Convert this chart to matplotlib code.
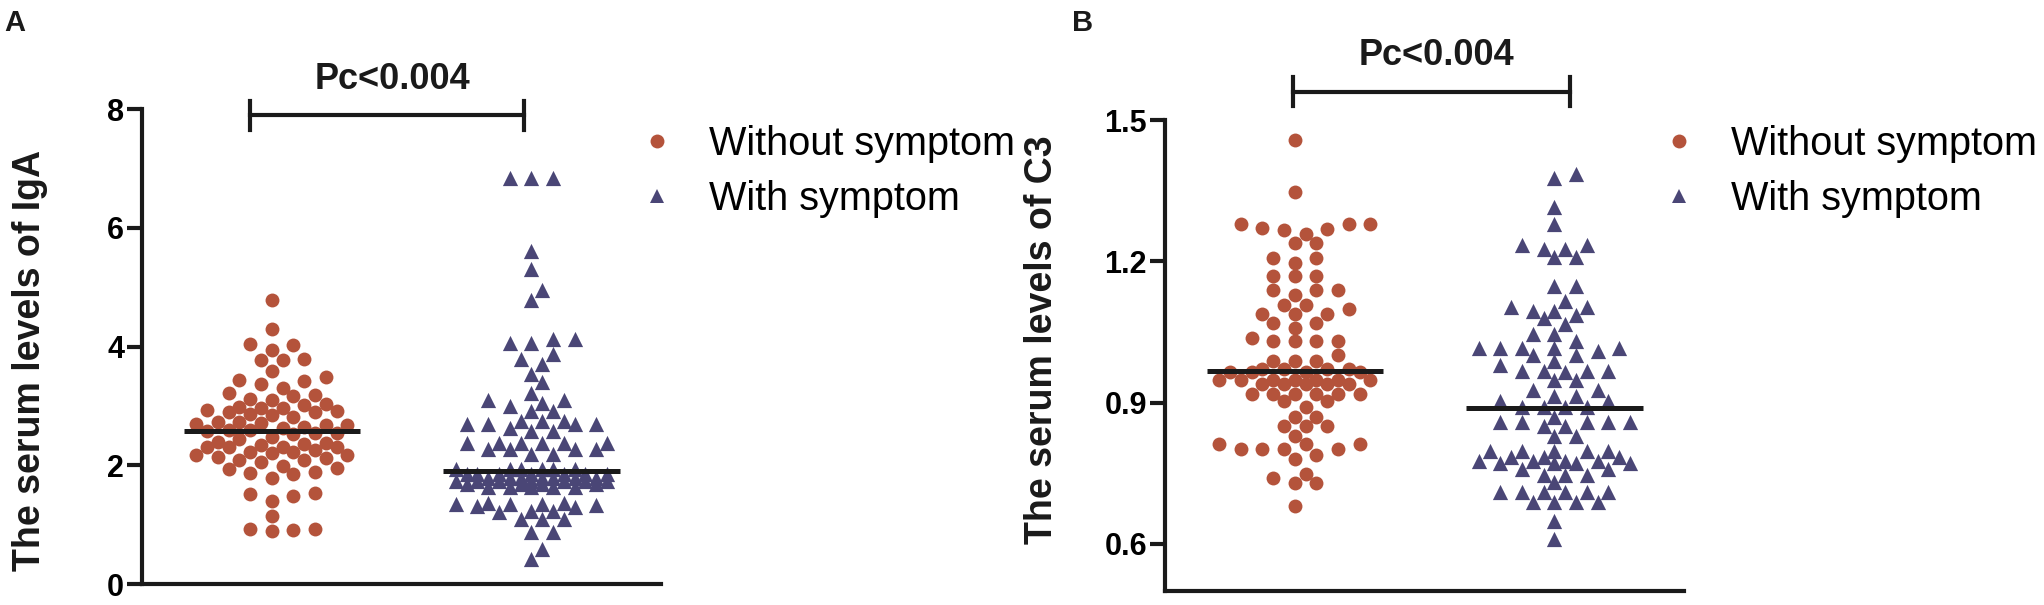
import numpy as np
import matplotlib
matplotlib.use('Agg')
import matplotlib.pyplot as plt
from matplotlib.lines import Line2D
from matplotlib.ticker import FormatStrFormatter

plt.rcParams['font.family'] = ['Liberation Sans', 'DejaVu Sans']

# ---- data ----
groups = ['Without symptom', 'With symptom']

iga_without = [4.78, 4.29, 4.04, 4.03, 3.95, 3.79, 3.78, 3.77, 3.58, 3.49,
               3.44, 3.42, 3.37, 3.30, 3.21, 3.19, 3.16, 3.12, 3.10, 3.04,
               2.97, 2.72, 2.52, 2.36, 2.22, 2.05,
               2.92, 2.65, 2.48, 2.31, 2.17,
               2.96, 2.85, 2.73, 2.59, 2.31, 2.17,
               3.01, 2.87, 2.70, 2.57, 2.40, 2.26, 2.14,
               2.98, 2.82, 2.68, 2.54, 2.31, 2.09,
               2.93, 2.73, 2.62, 2.45, 2.31, 2.09,
               2.90, 2.59, 2.37, 2.20,
               2.90, 2.68, 2.55, 2.34, 2.23, 2.12,
               1.99, 1.95, 1.94, 1.88, 1.87, 1.85, 1.79, 1.53, 1.52, 1.48,
               1.40, 1.14, 0.92, 0.91, 0.92, 0.90]

iga_with = [6.84, 6.84, 6.84, 5.61, 5.30, 4.95, 4.79, 4.13, 4.13, 4.06,
            4.06, 3.87, 3.79, 3.70, 3.53, 3.40, 3.21, 3.10, 3.10, 3.05,
            3.00, 2.91, 2.91, 2.75, 2.75, 2.75, 2.69, 2.69, 2.69, 2.69,
            2.63, 2.58, 2.58, 2.38, 2.38, 2.38, 2.38, 2.38, 2.38, 2.27,
            2.27, 2.27, 2.27, 2.19, 2.19,
            1.93, 1.93, 1.93, 1.93, 1.93, 1.93,
            1.86, 1.86, 1.86, 1.86, 1.86, 1.86, 1.86,
            1.78, 1.78, 1.78, 1.78, 1.78, 1.78, 1.78,
            1.74, 1.74, 1.74, 1.74, 1.74, 1.74, 1.74,
            1.69, 1.69, 1.69, 1.69,
            1.63, 1.63, 1.63, 1.63, 1.63,
            1.37, 1.36, 1.35, 1.35, 1.34, 1.33, 1.32, 1.30,
            1.23, 1.23, 1.22, 1.10, 1.10, 1.09, 0.88, 0.88, 0.59, 0.42]

c3_without = [1.457, 1.347, 1.279, 1.271, 1.267, 1.259, 1.268, 1.279, 1.279,
              1.238, 1.238, 1.207, 1.207, 1.197, 1.169, 1.169, 1.169,
              1.140, 1.140, 1.140, 1.128, 1.107, 1.107, 1.099,
              1.089, 1.089, 1.089, 1.070, 1.070, 1.058, 1.038,
              1.030, 1.030, 1.030, 1.030, 1.001, 0.989, 0.989, 0.989,
              0.972, 0.972, 0.972, 0.972, 0.964, 0.964, 0.964, 0.964,
              0.948, 0.948, 0.948, 0.948, 0.948, 0.948, 0.948,
              0.940, 0.940, 0.940, 0.940, 0.940,
              0.919, 0.919, 0.919, 0.919, 0.919, 0.919, 0.903, 0.903, 0.891,
              0.870, 0.870, 0.850, 0.850, 0.850, 0.829,
              0.813, 0.813, 0.813, 0.801, 0.801, 0.801, 0.801,
              0.788, 0.780, 0.749, 0.739, 0.729, 0.729, 0.680]

c3_with = [1.385, 1.377, 1.316, 1.279, 1.234, 1.234, 1.226, 1.226, 1.210, 1.210,
           1.148, 1.148, 1.115, 1.103, 1.103, 1.095, 1.095, 1.087, 1.079, 1.066,
           1.046, 1.046, 1.030, 1.017, 1.017, 1.017, 1.017, 1.017, 1.009,
           1.001, 1.001, 0.989, 0.980, 0.968, 0.968, 0.968, 0.968, 0.964,
           0.948, 0.948, 0.927, 0.927, 0.915, 0.915, 0.903, 0.903,
           0.891, 0.891, 0.891, 0.891, 0.870,
           0.858, 0.858, 0.858, 0.858, 0.858, 0.850, 0.850, 0.829, 0.829,
           0.797, 0.797, 0.797, 0.797, 0.797, 0.784, 0.784, 0.784,
           0.776, 0.776, 0.776, 0.776, 0.772, 0.772, 0.772, 0.772,
           0.760, 0.760, 0.747, 0.747, 0.747, 0.731,
           0.711, 0.711, 0.711, 0.711, 0.711, 0.711,
           0.690, 0.690, 0.690, 0.690, 0.648, 0.610]

iga_means = [2.57, 1.90]
c3_means = [0.968, 0.889]
p_text = 'Pc<0.004'

RED = '#b4533b'
BLUE = '#4a4676'
INK = '#1a1a1a'


def swarm_x(ax, values, center, step_px=10.8, min_px=13.0, max_k=7):
    """beeswarm-ish x positions, worked out in pixel space"""
    vals = np.asarray(values, float)
    order = np.argsort(vals)
    to_px = ax.transData.transform
    cx = to_px((center, 0))[0]
    ypx = to_px(np.column_stack([np.full(len(vals), center), vals]))[:, 1]
    ks = [0]
    for k in range(1, max_k + 1):
        ks += [k, -k]
    placed = []  # (xpx, ypx)
    out = np.zeros(len(vals))
    for i in order:
        y = ypx[i]
        best, best_d = None, -1
        for k in ks:
            x = cx + k * step_px
            d = min([np.hypot(x - px, y - py) for px, py in placed] or [1e9])
            if d >= min_px:
                best = x
                break
            if d > best_d:
                best, best_d = x, d
        placed.append((best, y))
        out[i] = best
    inv = ax.transData.inverted()
    return inv.transform(np.column_stack([out, ypx]))[:, 0]


fig = plt.figure(figsize=(20.44, 6.05), dpi=100)
axA = fig.add_axes([0.0695, 0.0347, 0.254, 0.785])
axB = fig.add_axes([0.570, 0.0231, 0.254, 0.7785])


def style(ax, ylim, ticks):
    ax.set_xlim(-0.5, 1.5)
    ax.set_ylim(*ylim)
    for s in ['top', 'right']:
        ax.spines[s].set_visible(False)
    for s in ['left', 'bottom']:
        ax.spines[s].set_linewidth(3)
        ax.spines[s].set_color(INK)
        ax.spines[s].set_capstyle('projecting')
    ax.spines['left'].set_bounds(ylim[0], ticks[-1])
    ax.set_xticks([])
    ax.set_yticks(ticks)
    ax.tick_params(axis='y', length=11, width=3, color=INK, pad=2,
                   labelsize=22)
    for t in ax.get_yticklabels():
        t.set_fontweight('bold')


style(axA, (0, 8), [0, 2, 4, 6, 8])
style(axB, (0.5, 1.5), [0.6, 0.9, 1.2, 1.5])
axB.yaxis.set_major_formatter(FormatStrFormatter('%.1f'))
for t in axB.get_yticklabels():
    t.set_fontweight('bold')


def draw(ax, a, b, means, bracket, ptxt):
    xa = swarm_x(ax, a, 0)
    xb = swarm_x(ax, b, 1)
    ax.scatter(xa, a, s=100, marker='o', color=RED, linewidths=0,
               clip_on=False, zorder=3)
    ax.scatter(xb, b, s=120, marker='^', color=BLUE, linewidths=0,
               clip_on=False, zorder=3)
    for i, m in enumerate(means):
        ax.hlines(m, i - 0.34, i + 0.34, color=INK, lw=3.6, zorder=4)
    x1, x2, yb, ylo, yhi, ytxt, xtxt = bracket
    ax.plot([x1, x2], [yb, yb], color=INK, lw=3, clip_on=False)
    ax.plot([x1, x1], [ylo, yhi], color=INK, lw=3, clip_on=False)
    ax.plot([x2, x2], [ylo, yhi], color=INK, lw=3, clip_on=False)
    ax.text(xtxt, ytxt, ptxt, ha='center', va='baseline', fontsize=26,
            fontweight='bold', color=INK)


draw(axA, iga_without, iga_with, iga_means,
     (-0.084, 0.972, 7.9, 7.64, 8.13, 8.33, 0.463), p_text)
draw(axB, c3_without, c3_with, c3_means,
     (-0.007, 1.06, 1.559, 1.530, 1.591, 1.617, 0.544), p_text)

axA.set_ylabel('The serum levels of IgA', fontsize=27, fontweight='bold',
               color=INK)
axA.yaxis.set_label_coords(-0.181, 0.47)
axB.set_ylabel('The serum levels of C3', fontsize=27, fontweight='bold',
               color=INK)
axB.yaxis.set_label_coords(-0.202, 0.533)

handles = [Line2D([], [], ls='none', marker='o', ms=10, color=RED, mew=0),
           Line2D([], [], ls='none', marker='^', ms=10, color=BLUE, mew=0)]
for ax, lx, ly in [(axA, 0.312, 0.793), (axB, 0.812, 0.793)]:
    fig.legend(handles, groups, loc='upper left', bbox_to_anchor=(lx, ly),
               frameon=False, fontsize=28.5, borderpad=0, borderaxespad=0,
               handlelength=0.95, handletextpad=0.85, labelspacing=0.43)

fig.text(0.002, 0.985, 'A', fontsize=21, fontweight='bold', va='top', color=INK)
fig.text(0.5245, 0.985, 'B', fontsize=21, fontweight='bold', va='top', color=INK)

fig.savefig('out.png', dpi=100)
